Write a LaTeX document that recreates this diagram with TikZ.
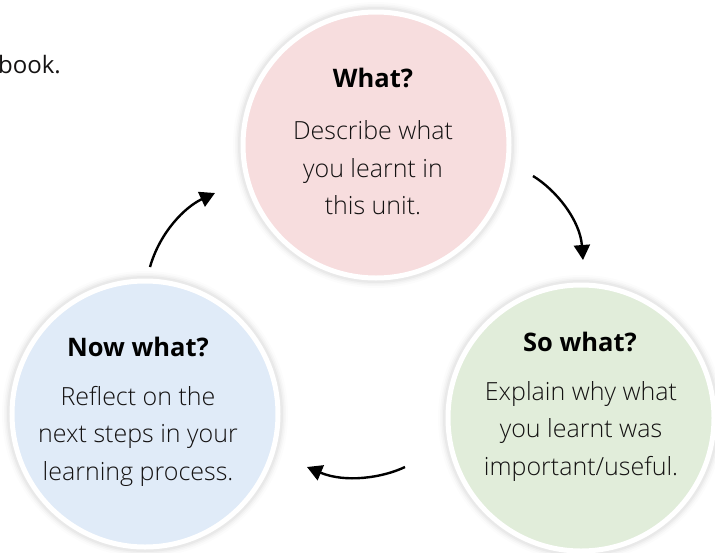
\documentclass[tikz,border=0pt]{standalone}
\usepackage{fontspec}
\setmainfont{Open Sans Light}[BoldFont={Open Sans Bold}]
\newfontfamily\regfont{Open Sans}
\usetikzlibrary{arrows.meta}
\definecolor{pinkc}{RGB}{247,221,222}
\definecolor{greenc}{RGB}{225,237,218}
\definecolor{bluec}{RGB}{224,235,248}
\definecolor{txt}{RGB}{20,18,18}
\tikzset{
  bubble/.style={circle, minimum size=266pt, inner sep=0pt, draw=white, line width=5pt},
  head/.style={font=\fontsize{25.5}{30}\selectfont\bfseries, text=black},
  body/.style={font=\fontsize{25}{37.5}\selectfont, text=txt, align=center},
  flow/.style={line width=2.4pt, -{Triangle[width=16pt,length=15pt]}},
}
\newcommand{\softshadow}[1]{%
  \foreach \r/\o in {143/0.012,141/0.018,139.5/0.025,138/0.03}{%
    \fill[black, opacity=\o] (#1) circle[radius=\r pt];}}
\begin{document}
\begin{tikzpicture}[x=1pt,y=-1pt]
\useasboundingbox (0,0) rectangle (715,552);
\fill[white] (0,0) rectangle (715,552);
\node[font=\regfont\fontsize{24}{30}\selectfont, text=txt, anchor=base east, inner sep=0pt] (book) at (61,73) {book.};
% circles
\coordinate (cw) at (376,145);
\coordinate (cn) at (145,414);
\coordinate (cs) at (581,418);
\softshadow{cw}
\softshadow{cn}
\softshadow{cs}
\node[bubble, fill=pinkc] (what) at (cw) {};
\node[bubble, fill=bluec] (nowwhat) at (cn) {};
\node[bubble, fill=greenc] (sowhat) at (cs) {};
% texts
\node[head] (h1) at (373,78) {What?};
\node[body] (b1) at (373,168) {Describe what\\you learnt in\\this unit.};
\node[head] (h2) at (138,347) {Now what?};
\node[body] (b2) at (138,436) {Reflect on the\\next steps in your\\learning process.};
\node[head] (h3) at (580,342) {So what?};
\node[body] (b3) at (581,431) {Explain why what\\you learnt was\\important/useful.};
% arrows
\coordinate (a1s) at (150,267);
\coordinate (a1e) at (215,193);
\coordinate (a2s) at (533,176);
\coordinate (a2e) at (583,260);
\coordinate (a3s) at (405,467);
\coordinate (a3e) at (307,467);
\draw[flow] (a1s) .. controls (160,232) and (185,207) .. (a1e);
\draw[flow] (a2s) .. controls (556,190) and (580,220) .. (a2e);
\draw[flow] (a3s) .. controls (382,478) and (345,483) .. (a3e);
\end{tikzpicture}
\end{document}
